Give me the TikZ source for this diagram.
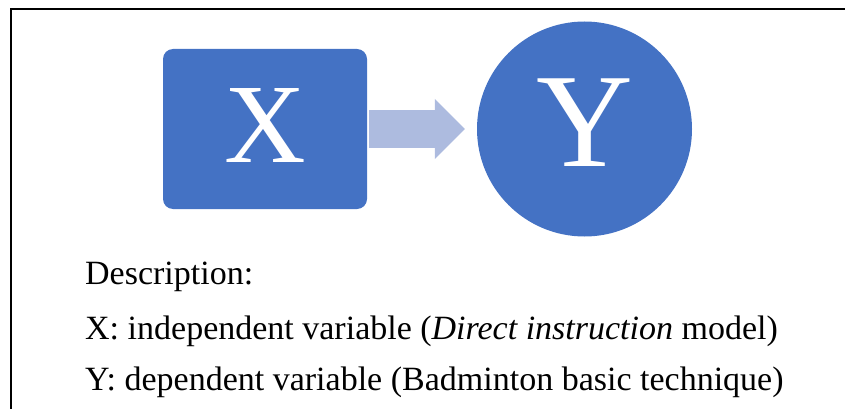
\documentclass[tikz,border=0pt]{standalone}
\usepackage{fontspec}
\setmainfont{Liberation Serif}
\usepackage{xcolor}
\usetikzlibrary{arrows.meta,positioning}

\definecolor{varblue}{HTML}{4472C4}
\definecolor{arrowblue}{RGB}{173,187,223}

\begin{document}
\begin{tikzpicture}[
  x=1pt, y=-1pt,
  var/.style={fill=varblue, text=white, inner sep=0pt},
  vbox/.style={var, rounded corners=10pt, minimum width=204pt, minimum height=160pt},
  vcirc/.style={var, circle, minimum size=215pt},
  desc/.style={anchor=base west, inner sep=0pt, font=\fontsize{34}{40}\selectfont},
  a/.style={line width=38pt, arrowblue, shorten <=2pt, shorten >=12pt,
    -{Triangle[length=30pt, width=60pt, line width=0pt]}}]
\useasboundingbox (0,0) rectangle (845,409);
% open frame, only top and left edges show
\draw[line width=2pt] (11,409) -- (11,9) -- (845,9);
\node[vbox, text depth=7pt, font=\fontsize{113}{113}\selectfont] (x) at (265,129) {X};
\node[vcirc, text depth=12pt, font=\fontsize{134}{134}\selectfont] (y) at (584.5,129) {Y};
\draw[a] (x.east) -- (y.west);
\node[desc] (info) at (85,284) {Description:};
\node[desc] (xinfo) at (85,339) {X: independent variable (\textit{Direct instruction} model)};
\node[desc] (yinfo) at (85,390) {Y: dependent variable (Badminton basic technique)};
\end{tikzpicture}
\end{document}
